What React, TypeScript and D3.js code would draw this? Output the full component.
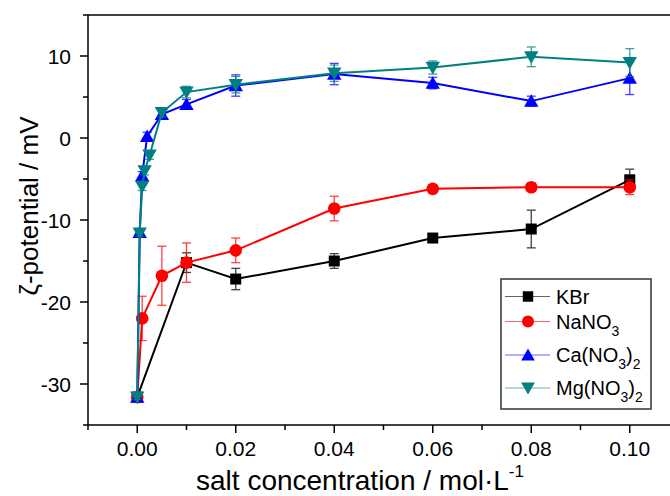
import React from "react";
import * as d3 from "d3";

// salt concentration (mol/L) and zeta potential (mV)
const kbrConc = [0, 0.01, 0.02, 0.04, 0.06, 0.08, 0.1];
const kbrZeta = [-31.6, -15.2, -17.2, -15.0, -12.2, -11.1, -5.1];
const kbrErr = [0.3, 1.2, 1.3, 0.9, 0.4, 2.3, 1.3];

const naConc = [0, 0.001, 0.005, 0.01, 0.02, 0.04, 0.06, 0.08, 0.1];
const naZeta = [-31.6, -22.0, -16.8, -15.2, -13.7, -8.6, -6.2, -6.0, -6.0];
const naErr = [0.3, 2.7, 3.6, 2.4, 1.5, 1.5, 0.5, 0.5, 0.9];

const caConc = [0, 0.0005, 0.001, 0.002, 0.005, 0.01, 0.02, 0.04, 0.06, 0.08, 0.1];
const caZeta = [-31.6, -11.5, -4.6, 0.2, 2.9, 4.1, 6.4, 7.8, 6.7, 4.5, 7.3];
const caErr = [0.3, 0.4, 0.5, 0.5, 0.5, 0.6, 1.3, 1.3, 0.7, 0.6, 2.0];

const mgConc = [0, 0.0005, 0.001, 0.0015, 0.0025, 0.005, 0.01, 0.02, 0.04, 0.06, 0.08, 0.1];
const mgZeta = [-31.6, -11.6, -5.9, -4.0, -2.1, 3.1, 5.6, 6.5, 7.9, 8.6, 9.9, 9.2];
const mgErr = [0.3, 0.4, 0.5, 0.5, 0.5, 0.5, 0.7, 1.0, 1.0, 0.8, 1.2, 1.7];

const xTicks = [0, 0.02, 0.04, 0.06, 0.08, 0.1];
const xMinor = [-0.01, 0.01, 0.03, 0.05, 0.07, 0.09, 0.11];
const yTicks = [-30, -20, -10, 0, 10];
const yMinor = [-35, -25, -15, -5, 5, 15];

const series = [
  { name: "KBr", sub: null, sub2: null, conc: kbrConc, zeta: kbrZeta, err: kbrErr, color: "#000000", symbol: "square" },
  { name: "NaNO", sub: "3", sub2: null, conc: naConc, zeta: naZeta, err: naErr, color: "#ff0000", symbol: "circle" },
  { name: "Ca(NO", sub: "3", sub2: "2", conc: caConc, zeta: caZeta, err: caErr, color: "#0000ff", symbol: "up" },
  { name: "Mg(NO", sub: "3", sub2: "2", conc: mgConc, zeta: mgZeta, err: mgErr, color: "#008080", symbol: "down" },
];

const W = 670;
const H = 496;
const margin = { left: 88, top: 15, right: -9, bottom: 71 };
const font = "Arial, 'Liberation Sans', sans-serif";

function marker(kind: string, cx: number, cy: number, color: string, s = 1) {
  if (kind === "square") {
    const a = 5.5 * s;
    return <rect x={cx - a} y={cy - a} width={2 * a} height={2 * a} fill={color} />;
  }
  if (kind === "circle") {
    return <circle cx={cx} cy={cy} r={6.3 * s} fill={color} />;
  }
  const w = 7.2 * s;
  const h = 6.3 * s;
  const d =
    kind === "up"
      ? `M${cx},${cy - h * 1.1} L${cx + w},${cy + h * 0.9} L${cx - w},${cy + h * 0.9} Z`
      : `M${cx},${cy + h * 1.1} L${cx + w},${cy - h * 0.9} L${cx - w},${cy - h * 0.9} Z`;
  return <path d={d} fill={color} />;
}

export default function App() {
  const x = d3.scaleLinear().domain([-0.01, 0.11]).range([margin.left, W - margin.right]);
  const y = d3.scaleLinear().domain([-35, 15]).range([H - margin.bottom, margin.top]);
  const x0 = margin.left;
  const yb = H - margin.bottom;

  const line = d3
    .line<[number, number]>()
    .x((d) => x(d[0]))
    .y((d) => y(d[1]));

  const legendRows = [17.5, 42.5, 76, 109];
  const lgX = 501;
  const lgY = 279;

  return (
    <svg
      width={W}
      height={H}
      style={{ position: "fixed", left: 0, top: 0, background: "#fff" }}
      fontFamily={font}
    >
      <rect width={W} height={H} fill="#fff" />
      {/* data */}
      {series.map((s) => {
        const pts = s.conc.map((c, i) => [c, s.zeta[i]] as [number, number]);
        return (
          <g key={s.name}>
            {pts.map((p, i) => {
              const cx = x(p[0]);
              const t = y(p[1] + s.err[i]);
              const b = y(p[1] - s.err[i]);
              return (
                <g key={i} stroke={s.color} strokeWidth={1.3} opacity={0.75}>
                  <line x1={cx} x2={cx} y1={t} y2={b} />
                  <line x1={cx - 4.5} x2={cx + 4.5} y1={t} y2={t} />
                  <line x1={cx - 4.5} x2={cx + 4.5} y1={b} y2={b} />
                </g>
              );
            })}
            <path d={line(pts) || ""} fill="none" stroke={s.color} strokeWidth={2} />
            {pts.map((p, i) => (
              <g key={"m" + i}>{marker(s.symbol, x(p[0]), y(p[1]), s.color)}</g>
            ))}
          </g>
        );
      })}

      {/* axes */}
      <g stroke="#000" strokeWidth={1.5}>
        <line x1={x0} x2={x0} y1={margin.top} y2={yb} />
        <line x1={x0} x2={W} y1={yb} y2={yb} />
        <line x1={x0} x2={W} y1={margin.top} y2={margin.top} />
        {yTicks.map((t) => (
          <line key={t} x1={x0 - 8} x2={x0} y1={y(t)} y2={y(t)} />
        ))}
        {yMinor.map((t) => (
          <line key={t} x1={x0 - 5} x2={x0} y1={y(t)} y2={y(t)} />
        ))}
        {xTicks.map((t) => (
          <line key={t} x1={x(t)} x2={x(t)} y1={yb} y2={yb + 8} />
        ))}
        {xMinor.map((t) => (
          <line key={t} x1={x(t)} x2={x(t)} y1={yb} y2={yb + 5} />
        ))}
      </g>
      <g fontSize={21} fill="#000">
        {yTicks.map((t) => (
          <text key={t} x={x0 - 17} y={y(t)} dy="0.36em" textAnchor="end">
            {t}
          </text>
        ))}
        {xTicks.map((t) => (
          <text key={t} x={x(t)} y={yb + 31} textAnchor="middle">
            {d3.format(".2f")(t)}
          </text>
        ))}
      </g>
      <text x={360} y={490} fontSize={28} textAnchor="middle">
        salt concentration / mol·L
        <tspan fontSize={17} dy={-13}>
          -1
        </tspan>
      </text>
      <text transform={`translate(38,206) rotate(-90)`} fontSize={26} textAnchor="middle">
        ζ-potential / mV
      </text>

      {/* legend */}
      <g>
        <rect x={lgX} y={lgY} width={150} height={130} fill="#fff" stroke="#333" strokeWidth={1.5} />
        {series.map((s, i) => {
          const ry = lgY + legendRows[i];
          return (
            <g key={s.name}>
              <line x1={505} x2={550} y1={ry} y2={ry} stroke={s.color} strokeWidth={1} opacity={0.6} />
              {marker(s.symbol, 528, ry, s.color, 0.95)}
              <text x={556} y={ry} dy="0.36em" fontSize={20}>
                {s.name}
                {s.sub && (
                  <tspan fontSize={14} dy={7}>
                    {s.sub}
                  </tspan>
                )}
                {s.sub2 && <tspan dy={-7}>)</tspan>}
                {s.sub2 && (
                  <tspan fontSize={14} dy={7}>
                    {s.sub2}
                  </tspan>
                )}
              </text>
            </g>
          );
        })}
      </g>
    </svg>
  );
}
